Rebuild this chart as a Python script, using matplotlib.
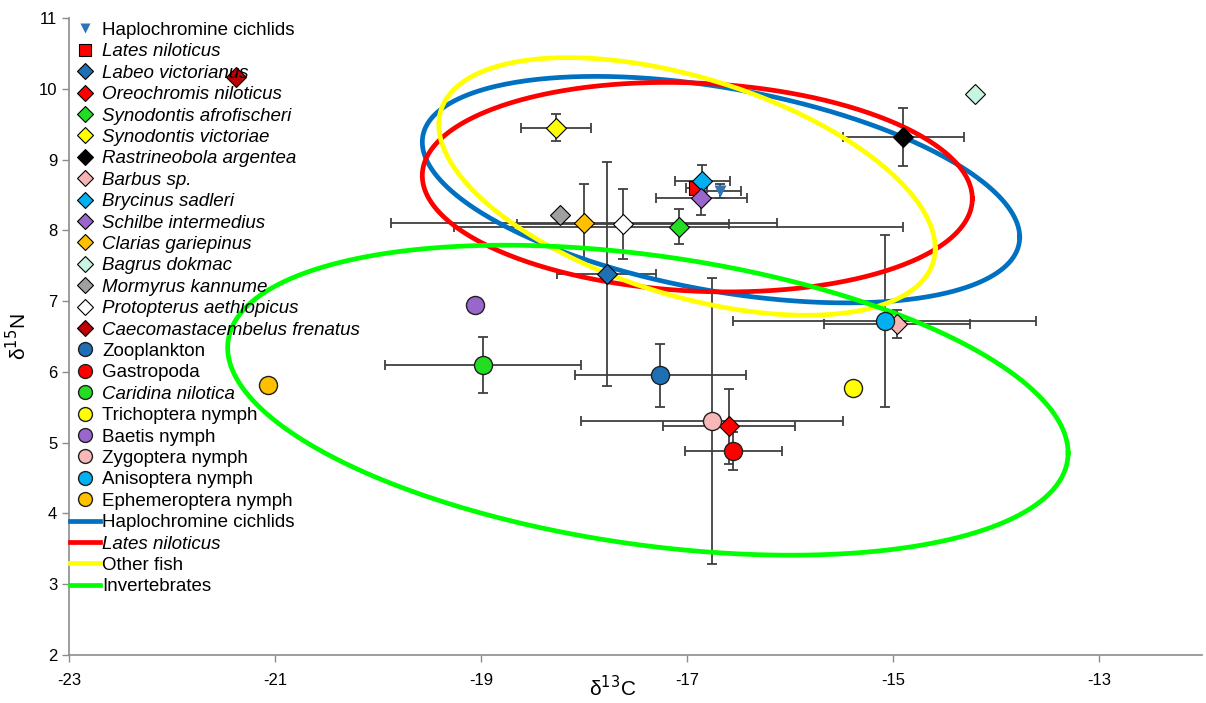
import numpy as np
import matplotlib
matplotlib.use("Agg")
import matplotlib.pyplot as plt
from matplotlib.lines import Line2D

plt.rcParams['font.family'] = ['Liberation Sans', 'DejaVu Sans']
plt.rcParams['axes.unicode_minus'] = False

# ---------------- data ----------------
fish_names = ["Haplochromine cichlids", "Lates niloticus", "Labeo victorianus",
              "Oreochromis niloticus", "Synodontis afrofischeri", "Synodontis victoriae",
              "Rastrineobola argentea", "Barbus sp.", "Brycinus sadleri",
              "Schilbe intermedius", "Clarias gariepinus", "Bagrus dokmac",
              "Mormyrus kannume", "Protopterus aethiopicus", "Caecomastacembelus frenatus"]
fish_markers = ["v", "s", "D", "D", "D", "D", "D", "D", "D", "D", "D", "D", "D", "D", "D"]
fish_colors = ["#2E75B6", "#FF0000", "#1F6FB4", "#FF0000", "#22DD22", "#FFFF00",
               "#000000", "#F8B4B4", "#00B0F0", "#9966CC", "#FFC000", "#C8F5E0",
               "#A0A0A0", "#FFFFFF", "#C00000"]
fish_italic = [False] + [True] * 14
fish_d13C = [-16.68, -16.91, -17.78, -16.59, -17.08, -18.27, -14.90, -14.96,
             -16.85, -16.86, -18.00, -14.20, -18.23, -17.62, -21.38]
fish_d15N = [8.55, 8.60, 7.38, 5.23, 8.05, 9.45, 9.32, 6.68, 8.69, 8.46, 8.10,
             9.93, 8.21, 8.09, 10.16]
fish_xerr = [0.20, 0.10, 0.48, 0.64, 2.18, 0.34, 0.59, 0.71, 0.27, 0.44, 1.87,
             np.nan, np.nan, 1.03, np.nan]
fish_yerr = [0.10, 0.08, 1.58, 0.53, 0.25, 0.19, 0.41, 0.20, 0.23, 0.25, 0.55,
             np.nan, np.nan, 0.50, np.nan]

inv_names = ["Zooplankton", "Gastropoda", "Caridina nilotica", "Trichoptera nymph",
             "Baetis nymph", "Zygoptera nymph", "Anisoptera nymph", "Ephemeroptera nymph"]
inv_colors = ["#1F6FB4", "#FF0000", "#22DD22", "#FFFF00", "#9966CC", "#F8B8B8",
              "#00B0F0", "#FFC000"]
inv_italic = [False, False, True, False, False, False, False, False]
inv_d13C = [-17.26, -16.55, -18.98, -15.39, -19.06, -16.76, -15.08, -21.07]
inv_d15N = [5.95, 4.88, 6.10, 5.77, 6.94, 5.31, 6.72, 5.82]
inv_xerr = [0.83, 0.47, 0.95, np.nan, np.nan, 1.27, 1.47, np.nan]
inv_yerr = [0.45, 0.27, 0.40, np.nan, np.nan, 2.02, 1.21, np.nan]

# ellipses: centre x, centre y, x half-extent, y half-extent, cos(phase shift)
ell_names = ["Haplochromine cichlids", "Lates niloticus", "Other fish", "Invertebrates"]
ell_colors = ["#0070C0", "#FF0000", "#FFFF00", "#00FF00"]
ell_italic = [False, True, False, False]
ell_cx = [-16.67, -16.90, -17.00, -17.38]
ell_cy = [8.575, 8.61, 8.62, 5.60]
ell_rx = [2.90, 2.67, 2.41, 4.08]
ell_ry = [1.60, 1.48, 1.82, 2.19]
ell_cos = [-0.42, -0.11, -0.48, -0.34]

# ---------------- figure ----------------
fig = plt.figure(figsize=(12.06, 7.03), dpi=100)
ax = fig.add_axes([69 / 1206, 48 / 703, (1202 - 69) / 1206, (655 - 18) / 703])

ebkw = dict(fmt='none', ecolor='#404040', elinewidth=1.3, capsize=3.5, capthick=1.3, zorder=2)
ax.errorbar(fish_d13C, fish_d15N, xerr=fish_xerr, yerr=fish_yerr, **ebkw)
ax.errorbar(inv_d13C, inv_d15N, xerr=inv_xerr, yerr=inv_yerr, **ebkw)

t = np.linspace(0, 2 * np.pi, 400)
for cx, cy, rx, ry, c, col in zip(ell_cx, ell_cy, ell_rx, ell_ry, ell_cos, ell_colors):
    d = np.arccos(c)
    ax.plot(cx + rx * np.cos(t), cy + ry * np.cos(t - d), color=col, lw=3.4, zorder=3)

handles, labels, italics = [], [], []
for x, y, m, col, name, it in zip(fish_d13C, fish_d15N, fish_markers, fish_colors,
                                  fish_names, fish_italic):
    ms = 9 if m == 'v' else 10
    lms = 9 if m == 's' else ms * 0.78
    ec = 'none' if m == 'v' else 'black'
    ax.plot([x], [y], marker=m, ms=ms, color=col, mec=ec, mew=0.8, ls='none', zorder=4)
    handles.append(Line2D([], [], marker=m, ms=lms, color=col, mec=ec, mew=0.8, ls='none'))
    labels.append(name)
    italics.append(it)
for x, y, col, name, it in zip(inv_d13C, inv_d15N, inv_colors, inv_names, inv_italic):
    ax.plot([x], [y], marker='o', ms=13, color=col, mec='#202020', mew=1.0, ls='none', zorder=4)
    handles.append(Line2D([], [], marker='o', ms=10, color=col, mec='#202020', mew=1.0, ls='none'))
    labels.append(name)
    italics.append(it)
for col, name, it in zip(ell_colors, ell_names, ell_italic):
    handles.append(Line2D([], [], color=col, lw=3.4))
    labels.append(name)
    italics.append(it)

leg = ax.legend(handles, labels, loc='upper left', bbox_to_anchor=(0.001, 0.994),
                frameon=False, fontsize=13.5, handlelength=1.6, handletextpad=0.1,
                labelspacing=0.228, borderaxespad=0.0, borderpad=0.0)
for txt, it in zip(leg.get_texts(), italics):
    if it:
        txt.set_fontstyle('italic')

ax.set_xlim(-23, -12)
ax.set_ylim(2, 11)
ax.set_xticks([-23, -21, -19, -17, -15, -13])
ax.set_yticks(range(2, 12))
for s in ['top', 'right']:
    ax.spines[s].set_visible(False)
for s in ['left', 'bottom']:
    ax.spines[s].set_color('#8C8C8C')
    ax.spines[s].set_linewidth(1.2)
ax.tick_params(axis='both', colors='#8C8C8C', labelcolor='black', labelsize=12,
               length=5, width=1)
ax.tick_params(axis='x', pad=8)
ax.set_xlabel(r'δ$^{13}$C', fontsize=15)
ax.xaxis.set_label_coords(0.48, -0.032)
ax.set_ylabel(r'δ$^{15}$N', fontsize=15, labelpad=6)

fig.savefig('out.png', dpi=100)
